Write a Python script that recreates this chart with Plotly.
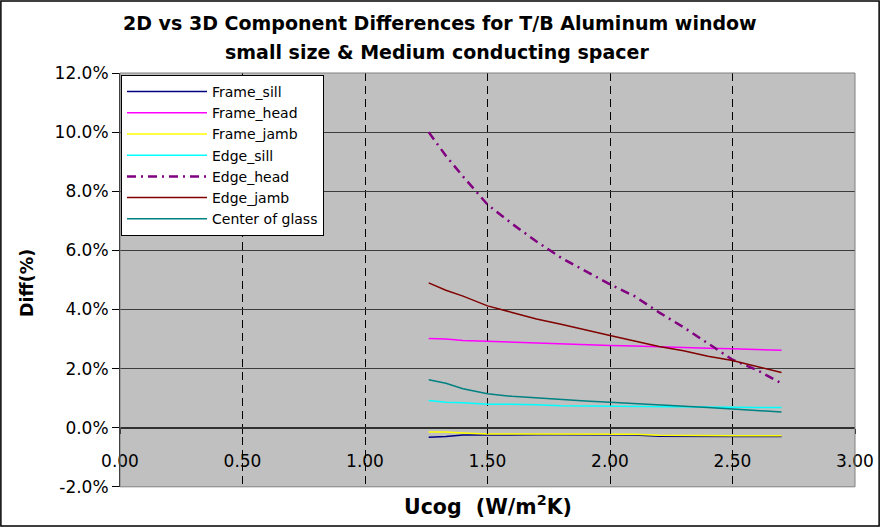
import plotly.graph_objects as go

# ---- data ----
ucog = [1.26, 1.33, 1.40, 1.50, 1.60, 1.70, 1.80, 1.90, 2.00, 2.10, 2.20, 2.30, 2.40, 2.50, 2.60, 2.70]
frame_sill = [-0.32, -0.30, -0.25, -0.24, -0.24, -0.24, -0.24, -0.24, -0.24, -0.25, -0.29, -0.30, -0.30, -0.30, -0.30, -0.30]
frame_head = [3.02, 3.00, 2.95, 2.92, 2.88, 2.86, 2.84, 2.81, 2.78, 2.76, 2.73, 2.71, 2.69, 2.67, 2.65, 2.62]
frame_jamb = [-0.15, -0.15, -0.18, -0.21, -0.21, -0.21, -0.21, -0.21, -0.21, -0.22, -0.26, -0.27, -0.27, -0.27, -0.27, -0.27]
edge_sill = [0.92, 0.86, 0.84, 0.79, 0.79, 0.78, 0.74, 0.73, 0.72, 0.72, 0.71, 0.70, 0.69, 0.69, 0.68, 0.68]
edge_head = [10.0, 9.2, 8.5, 7.55, 6.9, 6.3, 5.75, 5.3, 4.85, 4.45, 3.9, 3.4, 2.85, 2.3, 1.95, 1.5]
edge_jamb = [4.9, 4.65, 4.45, 4.12, 3.9, 3.68, 3.5, 3.3, 3.12, 2.93, 2.75, 2.6, 2.42, 2.27, 2.07, 1.87]
center_glass = [1.62, 1.50, 1.32, 1.15, 1.06, 1.00, 0.95, 0.90, 0.86, 0.82, 0.76, 0.72, 0.68, 0.63, 0.58, 0.53]

series_names = ["Frame_sill", "Frame_head", "Frame_jamb", "Edge_sill", "Edge_head", "Edge_jamb", "Center of glass"]
series_values = [frame_sill, frame_head, frame_jamb, edge_sill, edge_head, edge_jamb, center_glass]
series_colors = ["#000080", "#FF00FF", "#FFFF00", "#00FFFF", "#800080", "#800000", "#008080"]

y_tick_vals = [-2, 0, 2, 4, 6, 8, 10, 12]
y_tick_text = ["-2.0%", "0.0%", "2.0%", "4.0%", "6.0%", "8.0%", "10.0%", "12.0%"]
x_tick_vals = [0, 0.5, 1.0, 1.5, 2.0, 2.5, 3.0]
x_tick_text = ["0.00", "0.50", "1.00", "1.50", "2.00", "2.50", "3.00"]

title_line1 = "2D vs 3D Component Differences for T/B Aluminum window"
title_line2 = "small size & Medium conducting spacer"
x_title = "Ucog  (W/m<sup>2</sup>K)"
y_title = "Diff(%)"

# ---- figure ----
W, H = 880, 527
FONT = "DejaVu Sans"
plot_left, plot_right, plot_top, plot_bottom = 120, 855, 73, 486.8
y_min, y_max = -2, 12
zero_px = plot_bottom - (0 - y_min) / (y_max - y_min) * (plot_bottom - plot_top)

fig = go.Figure()
for name, vals, col in zip(series_names, series_values, series_colors):
    is_head = name == "Edge_head"
    fig.add_trace(go.Scatter(
        x=ucog, y=vals, mode="lines", name=name,
        line=dict(color=col, width=2.5 if is_head else 1.5,
                  dash="9px,5px,2px,5px" if is_head else "solid"),
    ))

fig.update_layout(
    width=W, height=H,
    margin=dict(l=0, r=0, t=0, b=0, autoexpand=False),
    paper_bgcolor="white",
    plot_bgcolor="#C0C0C0",
    font=dict(family=FONT, size=17, color="black"),
    showlegend=True,
    legend=dict(
        x=121 / W, y=1 - 75 / H, xanchor="left", yanchor="top",
        bgcolor="white", bordercolor="black", borderwidth=1,
        font=dict(family=FONT, size=14, color="black"),
        itemwidth=80, tracegroupgap=0,
    ),
    xaxis=dict(
        domain=[plot_left / W, plot_right / W],
        range=[0, 3], automargin=False,
        anchor="free", position=1 - zero_px / H,
        tickvals=x_tick_vals, ticktext=x_tick_text,
        showgrid=True, gridcolor="black", griddash="8px,5px", gridwidth=1,
        showline=True, linecolor="#303030", linewidth=2,
        ticks="outside", ticklen=5, tickcolor="black",
        ticklabelstandoff=13,
        zeroline=False,
        tickfont=dict(family=FONT, size=17),
    ),
    yaxis=dict(
        domain=[1 - plot_bottom / H, 1 - plot_top / H],
        range=[y_min, y_max], automargin=False,
        tickvals=y_tick_vals, ticktext=y_tick_text,
        showgrid=True, gridcolor="#3c3c3c", gridwidth=1,
        showline=True, linecolor="black", linewidth=1,
        ticks="outside", ticklen=7, tickcolor="black",
        zeroline=False,
        tickfont=dict(family=FONT, size=17),
    ),
    shapes=[
        dict(type="rect", xref="x domain", yref="y domain", x0=0, x1=1, y0=0, y1=1,
             line=dict(color="#808080", width=1), layer="above"),
        dict(type="rect", xref="paper", yref="paper", x0=0.001, x1=0.999, y0=0.002, y1=0.998,
             line=dict(color="black", width=1.5)),
    ],
    annotations=[
        dict(text="<b>" + title_line1 + "</b>", x=440 / W, y=1 - 23 / H, xref="paper", yref="paper",
             showarrow=False, xanchor="center", yanchor="middle",
             font=dict(family=FONT, size=19, color="black")),
        dict(text="<b>" + title_line2 + "</b>", x=437 / W, y=1 - 52 / H, xref="paper", yref="paper",
             showarrow=False, xanchor="center", yanchor="middle",
             font=dict(family=FONT, size=19, color="black")),
        dict(text="<b>" + x_title + "</b>", x=488 / W, y=1 - 505 / H, xref="paper", yref="paper",
             showarrow=False, xanchor="center", yanchor="middle",
             font=dict(family=FONT, size=20.5, color="black")),
        dict(text="<b>" + y_title + "</b>", x=27 / W, y=1 - 283 / H, xref="paper", yref="paper",
             showarrow=False, xanchor="center", yanchor="middle", textangle=-90,
             font=dict(family=FONT, size=17.5, color="black")),
    ],
)

fig.write_html(
    "out.html",
    config={"displayModeBar": False},
    post_script="document.body.style.margin='0';document.body.style.overflow='hidden';",
)
